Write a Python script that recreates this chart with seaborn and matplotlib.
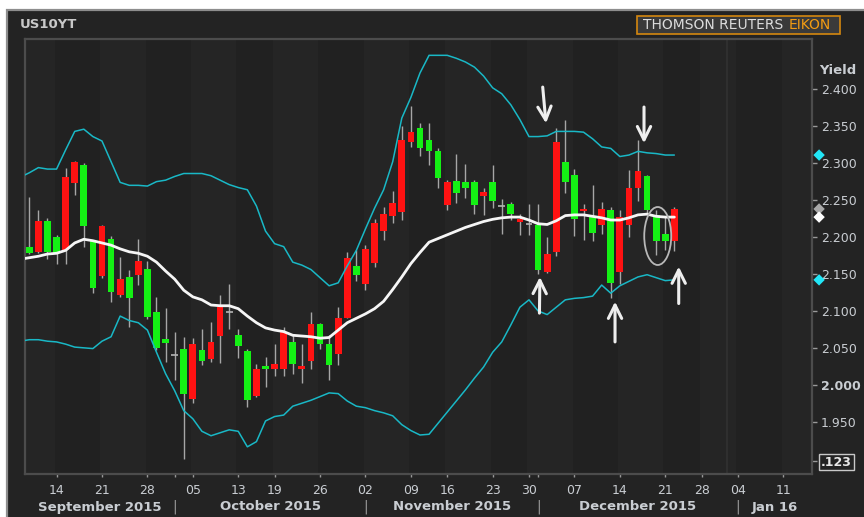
import numpy as np
import pandas as pd
import matplotlib
matplotlib.use("Agg")
import matplotlib.pyplot as plt
import seaborn as sns
from matplotlib.patches import Rectangle, Ellipse, FancyArrowPatch
from matplotlib.transforms import blended_transform_factory

# ---------------- data ----------------
holidays = ["2015-10-12", "2015-11-11", "2015-11-26", "2015-12-25", "2016-01-01"]
first_band_day = "2015-09-08"
first_candle_day = "2015-09-09"
last_candle_day = "2015-12-22"

opens = [2.186, 2.180, 2.222, 2.200, 2.183, 2.273, 2.298, 2.194, 2.147, 2.198,
         2.122, 2.146, 2.149, 2.157, 2.098, 2.062, 2.040, 2.048, 1.981, 2.047,
         2.035, 2.066, 2.098, 2.067, 2.046, 1.985, 2.025, 2.021, 2.021, 2.058,
         2.021, 2.032, 2.082, 2.055, 2.041, 2.090, 2.161, 2.136, 2.165, 2.208,
         2.228, 2.234, 2.328, 2.347, 2.331, 2.316, 2.243, 2.276, 2.274, 2.274,
         2.255, 2.274, 2.242, 2.245, 2.221, 2.217, 2.216, 2.152, 2.180, 2.302,
         2.284, 2.235, 2.228, 2.216, 2.236, 2.153, 2.216, 2.267, 2.283, 2.230,
         2.204, 2.194]
highs = [2.254, 2.237, 2.226, 2.203, 2.293, 2.303, 2.300, 2.196, 2.216, 2.201,
         2.173, 2.156, 2.198, 2.168, 2.119, 2.104, 2.071, 2.064, 2.063, 2.076,
         2.085, 2.122, 2.137, 2.076, 2.048, 2.028, 2.037, 2.055, 2.078, 2.067,
         2.055, 2.098, 2.084, 2.067, 2.105, 2.180, 2.182, 2.189, 2.225, 2.241,
         2.262, 2.350, 2.377, 2.354, 2.355, 2.320, 2.277, 2.313, 2.299, 2.277,
         2.266, 2.297, 2.252, 2.248, 2.231, 2.245, 2.245, 2.200, 2.347, 2.358,
         2.292, 2.245, 2.270, 2.248, 2.241, 2.236, 2.291, 2.332, 2.284, 2.237,
         2.228, 2.240]
lows = [2.177, 2.178, 2.170, 2.163, 2.163, 2.257, 2.187, 2.124, 2.145, 2.112,
        2.119, 2.078, 2.135, 2.089, 2.047, 2.031, 2.006, 1.900, 1.975, 2.027,
        2.031, 2.030, 2.076, 2.036, 1.970, 1.984, 1.997, 2.012, 2.012, 2.015,
        2.002, 2.021, 2.048, 2.006, 2.027, 2.090, 2.140, 2.128, 2.160, 2.196,
        2.219, 2.223, 2.322, 2.310, 2.298, 2.266, 2.237, 2.246, 2.253, 2.231,
        2.230, 2.239, 2.204, 2.223, 2.203, 2.203, 2.150, 2.151, 2.174, 2.259,
        2.201, 2.196, 2.195, 2.204, 2.118, 2.137, 2.200, 2.249, 2.230, 2.176,
        2.182, 2.181]
closes = [2.179, 2.222, 2.180, 2.179, 2.281, 2.302, 2.215, 2.131, 2.215, 2.126,
          2.143, 2.117, 2.168, 2.092, 2.050, 2.057, 2.040, 1.987, 2.055, 2.032,
          2.058, 2.105, 2.098, 2.053, 1.979, 2.021, 2.021, 2.028, 2.072, 2.028,
          2.025, 2.082, 2.055, 2.027, 2.091, 2.171, 2.149, 2.184, 2.219, 2.231,
          2.246, 2.332, 2.342, 2.321, 2.317, 2.280, 2.274, 2.260, 2.267, 2.243,
          2.261, 2.249, 2.242, 2.231, 2.224, 2.217, 2.155, 2.177, 2.328, 2.274,
          2.224, 2.238, 2.206, 2.238, 2.138, 2.227, 2.267, 2.290, 2.237, 2.195,
          2.195, 2.238]

upper_band = [2.281, 2.287, 2.294, 2.292, 2.292, 2.318, 2.343, 2.346, 2.336, 2.330,
              2.302, 2.274, 2.270, 2.270, 2.269, 2.275, 2.277, 2.282, 2.286, 2.286,
              2.286, 2.283, 2.277, 2.271, 2.267, 2.264, 2.242, 2.208, 2.191, 2.187,
              2.166, 2.162, 2.156, 2.145, 2.134, 2.138, 2.161, 2.182, 2.211, 2.239,
              2.264, 2.302, 2.361, 2.389, 2.422, 2.446, 2.446, 2.446, 2.442, 2.437,
              2.430, 2.418, 2.402, 2.394, 2.379, 2.359, 2.336, 2.336, 2.337, 2.343,
              2.343, 2.343, 2.342, 2.333, 2.322, 2.320, 2.309, 2.311, 2.316, 2.314,
              2.313, 2.311, 2.311]
middle_sma = [2.170, 2.172, 2.174, 2.177, 2.178, 2.182, 2.192, 2.197, 2.195, 2.192,
              2.189, 2.184, 2.180, 2.178, 2.174, 2.166, 2.154, 2.143, 2.128, 2.119,
              2.115, 2.108, 2.107, 2.107, 2.103, 2.093, 2.084, 2.077, 2.074, 2.072,
              2.067, 2.066, 2.065, 2.063, 2.064, 2.074, 2.084, 2.090, 2.096, 2.103,
              2.113, 2.129, 2.146, 2.164, 2.179, 2.193, 2.198, 2.203, 2.208, 2.213,
              2.217, 2.221, 2.224, 2.226, 2.227, 2.227, 2.223, 2.218, 2.217, 2.222,
              2.229, 2.230, 2.230, 2.228, 2.226, 2.223, 2.223, 2.226, 2.230, 2.231,
              2.228, 2.227, 2.227]
lower_band = [2.059, 2.061, 2.061, 2.059, 2.058, 2.055, 2.051, 2.050, 2.049, 2.059,
              2.065, 2.093, 2.087, 2.084, 2.074, 2.044, 2.015, 1.992, 1.965, 1.954,
              1.937, 1.931, 1.935, 1.939, 1.937, 1.916, 1.923, 1.951, 1.957, 1.959,
              1.971, 1.975, 1.979, 1.984, 1.989, 1.988, 1.978, 1.971, 1.969, 1.965,
              1.962, 1.958, 1.946, 1.938, 1.932, 1.933, 1.948, 1.963, 1.978, 1.993,
              2.009, 2.024, 2.044, 2.058, 2.081, 2.105, 2.115, 2.100, 2.095, 2.105,
              2.115, 2.117, 2.118, 2.120, 2.135, 2.124, 2.134, 2.140, 2.146, 2.149,
              2.145, 2.141, 2.142]

chart_title = "US10YT"
axis_title = "Yield"
brand_main = "THOMSON REUTERS"
brand_accent = "EIKON"
month_labels = ["September 2015", "October 2015", "November 2015", "December 2015", "Jan 16"]
y_ticks = [1.95, 2.00, 2.05, 2.10, 2.15, 2.20, 2.25, 2.30, 2.35, 2.40]
badge_value = 1.897
badge_text = ".123"

# ---------------- styling ----------------
sns.set_theme(style="dark", rc={"axes.facecolor": "#222222", "figure.facecolor": "white"})
plt.rcParams["font.family"] = ["DejaVu Sans"]

TXT = "#c9cdd2"
W, H = 864, 517


def fx(px):
    return px / W


def fy(py):
    return 1 - py / H


fig = plt.figure(figsize=(8.64, 5.17), dpi=100, facecolor="white")
fig.patches.append(Rectangle((fx(7), -0.05), 1.0, fy(10) + 0.05, transform=fig.transFigure,
                             facecolor="#232323", edgecolor="#8d8d8d", lw=1.6, zorder=-5))
ax = fig.add_axes([fx(25), fy(474), (812 - 25) / W, (474 - 39) / H])
ax.set_zorder(2)
ax.set_facecolor("#222222")

# trading calendar
cal = pd.bdate_range("2015-09-08", "2016-01-15")
cal = cal[~cal.isin(pd.to_datetime(holidays))]
pos = pd.Series(np.arange(len(cal)), index=cal)
cdates = cal[(cal >= first_candle_day) & (cal <= last_candle_day)]
xc = pos[cdates].values.astype(float)
bdates = cal[(cal >= first_band_day) & (cal <= last_candle_day)]
xb = pos[bdates].values.astype(float)

X0, X1 = 0.527, 87.15
Y0, Y1 = 1.8792, 2.4681

wk = cal.isocalendar()
first_of_week = ~wk.duplicated(subset=["year", "week"]).values
week_starts = cal[first_of_week]
month_first = ~pd.Series(cal.to_period("M")).duplicated().values
month_starts = cal[month_first]

# weekly background bands
wpos = [pos[d] - 0.2 for d in week_starts] + [X1 + 1]
for k in range(len(week_starts)):
    col = "#252525" if k % 2 == 0 else "#212121"
    ax.axvspan(wpos[k], wpos[k + 1], color=col, lw=0, zorder=0)
ax.axvline(77.8, color="#2f2f2f", lw=1.5, zorder=0.5)

# candles
o = np.array(opens); c = np.array(closes); h = np.array(highs); l = np.array(lows)
up = c > o
dn = c < o
fl = c == o
ax.vlines(xc, l, h, color="#a6a6a6", lw=1.0, zorder=2)
ax.bar(xc[up], (c - o)[up], bottom=o[up], width=0.74, color="#ff1212", lw=0, zorder=3)
ax.bar(xc[dn], (o - c)[dn], bottom=c[dn], width=0.74, color="#14f014", lw=0, zorder=3)
ax.hlines(o[fl], xc[fl] - 0.37, xc[fl] + 0.37, color="#b4b4b4", lw=1.2, zorder=3)

# bands and moving average
band_df = pd.DataFrame({"x": xb, "upper": upper_band, "mid": middle_sma, "lower": lower_band})
sns.lineplot(data=band_df, x="x", y="upper", ax=ax, color="#19b8c6", lw=1.1, estimator=None, zorder=4)
sns.lineplot(data=band_df, x="x", y="lower", ax=ax, color="#19b8c6", lw=1.1, estimator=None, zorder=4)
sns.lineplot(data=band_df, x="x", y="mid", ax=ax, color="#f6f6f6", lw=2.0, estimator=None, zorder=5)

# annotations (arrows and ellipse)
arrows = [((57.51, 2.403), (57.87, 2.354)),
          ((57.15, 2.097), (57.20, 2.146)),
          ((68.66, 2.376), (68.66, 2.327)),
          ((65.47, 2.058), (65.47, 2.1125)),
          ((72.48, 2.110), (72.48, 2.160))]
for (t, hd) in arrows:
    ax.add_patch(FancyArrowPatch(t, hd, arrowstyle="->", mutation_scale=24, lw=2.2,
                                 color="#eeeeee", zorder=7, shrinkA=0, shrinkB=0))
ax.add_patch(Ellipse((70.17, 2.2014), 2.97, 0.0785, fill=False, edgecolor="#b8b8b8", lw=1.3, zorder=7))

# axes
ax.set_xlim(X0, X1)
ax.set_ylim(Y0, Y1)
ax.set_xlabel("")
ax.set_ylabel("")
ax.grid(False)
for s in ax.spines.values():
    s.set_color("#4c4c4c")
    s.set_linewidth(1.6)

ax.yaxis.tick_right()
ax.set_yticks(y_ticks + [badge_value])
ax.set_yticklabels([f"{v:.3f}" for v in y_ticks] + [badge_text])
ax.tick_params(axis="y", right=True, left=False, colors="#9a9a9a", labelcolor=TXT,
               length=3.5, width=1, pad=3, labelsize=9)
for lab in ax.get_yticklabels():
    if lab.get_text() == "2.000":
        lab.set_fontweight("bold")
    if lab.get_text() == badge_text:
        lab.set_fontweight("bold")
        lab.set_color("#e8e8e8")
        lab.set_bbox(dict(facecolor="#232323", edgecolor="#c8c8c8", pad=1.2, lw=1.0))

vis_weeks = [d for d in week_starts if X0 < pos[d] < X1]
ax.set_xticks([pos[d] for d in vis_weeks])
ax.set_xticklabels([d.strftime("%d") for d in vis_weeks])
vis_months = [d for d in month_starts if X0 < pos[d] < X1]
ax.set_xticks([pos[d] for d in vis_months], minor=True)
ax.tick_params(axis="x", which="both", bottom=True, colors="#9a9a9a", labelcolor=TXT,
               length=2.5, width=1, pad=4.5, labelsize=9)

tr_x = blended_transform_factory(ax.transData, ax.transAxes)
bounds = [X0] + [pos[d] for d in vis_months] + [X1]
ym = (474 - 507) / (474 - 39)
for i, lab in enumerate(month_labels):
    ax.text((bounds[i] + bounds[i + 1]) / 2, ym, lab, transform=tr_x, ha="center", va="center",
            fontsize=9.5, fontweight="bold", color=TXT)
for d in vis_months:
    ax.text(pos[d], ym, "|", transform=tr_x, ha="center", va="center", fontsize=10, color="#9a9a9a")

# right-edge value markers
tr_y = blended_transform_factory(ax.transAxes, ax.transData)
ax.scatter([1.009] * 4, [upper_band[-1], closes[-1], middle_sma[-1], lower_band[-1]],
           marker="D", s=34, c=["#22e6f6", "#a8a8a8", "#ffffff", "#22e6f6"],
           transform=tr_y, clip_on=False, zorder=10, linewidths=0)

# header texts
fig.text(fx(20), fy(25), chart_title, fontsize=9.5, fontweight="bold", color="#c8c8c8", va="center")
fig.text(fx(838), fy(70), axis_title, fontsize=9.5, fontweight="bold", color=TXT, va="center", ha="center")
fig.patches.append(Rectangle((fx(637), fy(34)), 203 / W, 18 / H, transform=fig.transFigure,
                             facecolor="#3a3a3a", edgecolor="#d4870f", lw=1.2, zorder=1))
fig.text(fx(643), fy(25), brand_main, fontsize=10, color="#dcdcdc", va="center", ha="left", zorder=2)
fig.text(fx(831), fy(25), brand_accent, fontsize=10, color="#f39c12", va="center", ha="right", zorder=2)

fig.savefig("out.png", dpi=100, facecolor=fig.get_facecolor())
